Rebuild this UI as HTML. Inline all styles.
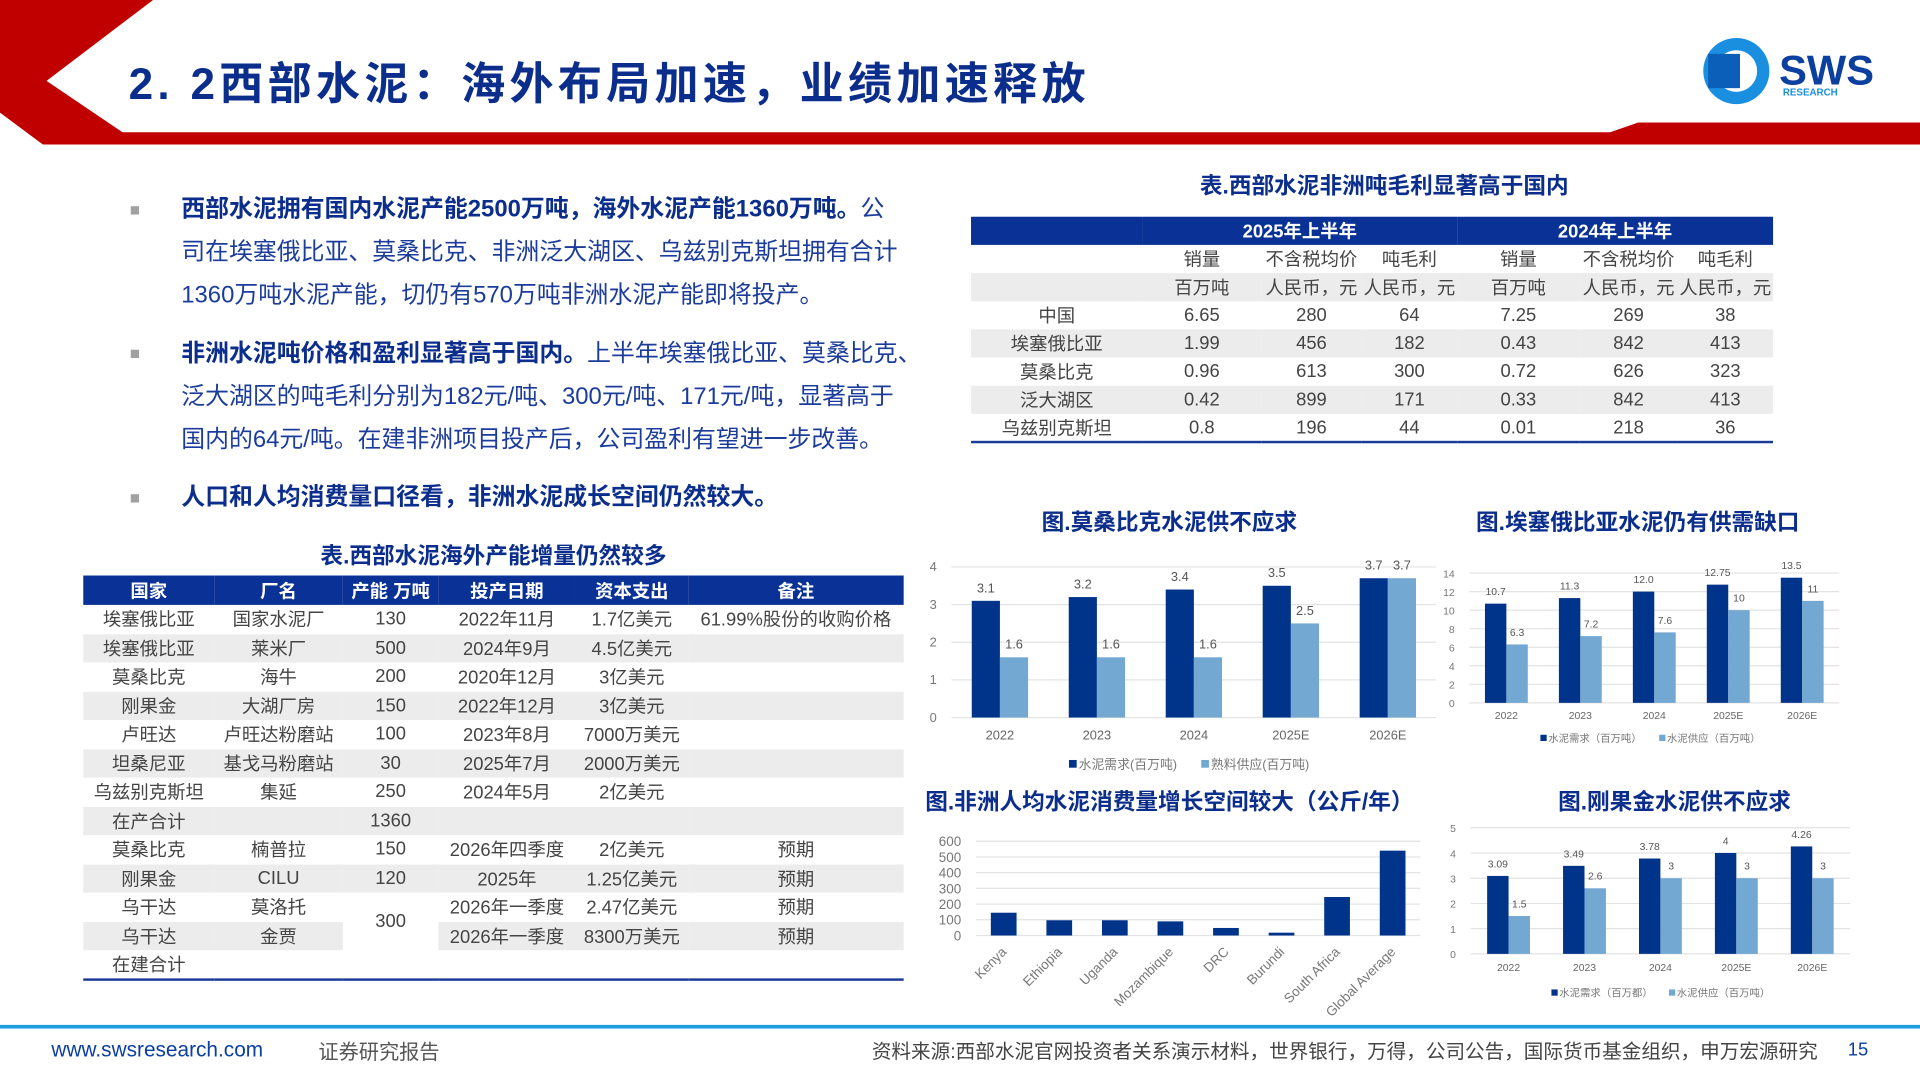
<!DOCTYPE html>
<html><head><meta charset="utf-8">
<style>
html,body{margin:0;padding:0;background:#fff;overflow:hidden;}
body{width:1920px;height:1080px;}
#wrap{position:absolute;left:0;top:0;width:1568px;height:882px;transform:scale(1.22449);transform-origin:0 0;font-family:"Liberation Sans","Noto Sans CJK SC",sans-serif;}
.abs{position:absolute;}
.title{left:105px;top:40px;font-size:36px;font-weight:bold;color:#0b2d8c;font-family:"Liberation Sans","Noto Sans CJK SC",sans-serif;letter-spacing:3.5px;}
.bul{left:106px;font-size:14px;color:#a0a0a0;}
.para{left:148px;font-size:19.5px;line-height:35px;color:#1c3c9c;white-space:nowrap;}
.para b{color:#0b2d8c;}
.ttl{font-size:18.5px;font-weight:bold;color:#0b2d8c;text-align:center;}
table{border-collapse:collapse;position:absolute;font-size:15px;color:#444;}
td{text-align:center;padding:0;white-space:nowrap;}
tr.g td{background:#ececec;}
th{background:#0a3296;color:#fff;font-weight:bold;font-size:15px;}
svg text{font-family:"Liberation Sans","Noto Sans CJK SC",sans-serif;}
</style></head><body>
<div id="wrap">
<svg class="abs" style="left:0;top:0" width="1568" height="130">
<polygon points="0,0 125,0 38,66 100,108 1315,108 1338,100 1568,100 1568,118 35,118 0,92" fill="#c00000"/>
<circle cx="1418" cy="58" r="27" fill="#1a8fe0"/>
<circle cx="1418" cy="58" r="17" fill="#fff"/>
<rect x="1395" y="44" width="26" height="28" fill="#0b5fb8"/>
<text x="1453" y="69" font-size="34" font-weight="bold" fill="#0b3fa0">SWS</text>
<text x="1456" y="78" font-size="8" font-weight="bold" fill="#1a8fe0">RESEARCH</text>
</svg>
<div class="abs title">2. 2西部水泥：海外布局加速，业绩加速释放</div>

<div class="abs bul" style="top:163px">■</div>
<div class="abs para" style="top:154px"><b>西部水泥拥有国内水泥产能2500万吨，海外水泥产能1360万吨。</b>公<br>司在埃塞俄比亚、莫桑比克、非洲泛大湖区、乌兹别克斯坦拥有合计<br>1360万吨水泥产能，切仍有570万吨非洲水泥产能即将投产。</div>
<div class="abs bul" style="top:280px">■</div>
<div class="abs para" style="top:272px"><b>非洲水泥吨价格和盈利显著高于国内。</b>上半年埃塞俄比亚、莫桑比克、<br>泛大湖区的吨毛利分别为182元/吨、300元/吨、171元/吨，显著高于<br>国内的64元/吨。在建非洲项目投产后，公司盈利有望进一步改善。</div>
<div class="abs bul" style="top:398px">■</div>
<div class="abs para" style="top:389px"><b>人口和人均消费量口径看，非洲水泥成长空间仍然较大。</b></div>

<div class="abs ttl" style="left:68px;width:670px;top:440px">表.西部水泥海外产能增量仍然较多</div>
<table style="left:68px;top:470px;width:670px;border-bottom:2px solid #1a3a9a">
<colgroup><col style="width:107px"><col style="width:105px"><col style="width:78px"><col style="width:112px"><col style="width:92px"><col style="width:176px"></colgroup>
<tr style="height:24px"><th>国家</th><th>厂名</th><th>产能 万吨</th><th>投产日期</th><th>资本支出</th><th>备注</th></tr>
<tr style="height:23.5px"><td>埃塞俄比亚</td><td>国家水泥厂</td><td>130</td><td>2022年11月</td><td>1.7亿美元</td><td>61.99%股份的收购价格</td></tr>
<tr class="g" style="height:23.5px"><td>埃塞俄比亚</td><td>莱米厂</td><td>500</td><td>2024年9月</td><td>4.5亿美元</td><td></td></tr>
<tr style="height:23.5px"><td>莫桑比克</td><td>海牛</td><td>200</td><td>2020年12月</td><td>3亿美元</td><td></td></tr>
<tr class="g" style="height:23.5px"><td>刚果金</td><td>大湖厂房</td><td>150</td><td>2022年12月</td><td>3亿美元</td><td></td></tr>
<tr style="height:23.5px"><td>卢旺达</td><td>卢旺达粉磨站</td><td>100</td><td>2023年8月</td><td>7000万美元</td><td></td></tr>
<tr class="g" style="height:23.5px"><td>坦桑尼亚</td><td>基戈马粉磨站</td><td>30</td><td>2025年7月</td><td>2000万美元</td><td></td></tr>
<tr style="height:23.5px"><td>乌兹别克斯坦</td><td>集延</td><td>250</td><td>2024年5月</td><td>2亿美元</td><td></td></tr>
<tr class="g" style="height:23.5px"><td>在产合计</td><td></td><td>1360</td><td></td><td></td><td></td></tr>
<tr style="height:23.5px"><td>莫桑比克</td><td>楠普拉</td><td>150</td><td>2026年四季度</td><td>2亿美元</td><td>预期</td></tr>
<tr class="g" style="height:23.5px"><td>刚果金</td><td>CILU</td><td>120</td><td>2025年</td><td>1.25亿美元</td><td>预期</td></tr>
<tr style="height:23.5px"><td>乌干达</td><td>莫洛托</td><td rowspan="2" style="background:#fff">300</td><td>2026年一季度</td><td>2.47亿美元</td><td>预期</td></tr>
<tr class="g" style="height:23.5px"><td>乌干达</td><td>金贾</td><td>2026年一季度</td><td>8300万美元</td><td>预期</td></tr>
<tr style="height:23.5px"><td>在建合计</td><td></td><td></td><td></td><td></td><td></td></tr>
</table>

<div class="abs ttl" style="left:793px;width:675px;top:138px">表.西部水泥非洲吨毛利显著高于国内</div>
<table style="left:793px;top:177px;width:655px;border-bottom:2px solid #1a3a9a">
<colgroup><col style="width:140px"><col style="width:97px"><col style="width:82px"><col style="width:78px"><col style="width:100px"><col style="width:80px"><col style="width:78px"></colgroup>
<tr style="height:23px"><th></th><th colspan="3">2025年上半年</th><th colspan="3">2024年上半年</th></tr>
<tr style="height:23px"><td></td><td>销量</td><td>不含税均价</td><td>吨毛利</td><td>销量</td><td>不含税均价</td><td>吨毛利</td></tr>
<tr class="g" style="height:23px"><td></td><td>百万吨</td><td>人民币，元</td><td>人民币，元</td><td>百万吨</td><td>人民币，元</td><td>人民币，元</td></tr>
<tr style="height:23px"><td>中国</td><td>6.65</td><td>280</td><td>64</td><td>7.25</td><td>269</td><td>38</td></tr>
<tr class="g" style="height:23px"><td>埃塞俄比亚</td><td>1.99</td><td>456</td><td>182</td><td>0.43</td><td>842</td><td>413</td></tr>
<tr style="height:23px"><td>莫桑比克</td><td>0.96</td><td>613</td><td>300</td><td>0.72</td><td>626</td><td>323</td></tr>
<tr class="g" style="height:23px"><td>泛大湖区</td><td>0.42</td><td>899</td><td>171</td><td>0.33</td><td>842</td><td>413</td></tr>
<tr style="height:23px"><td>乌兹别克斯坦</td><td>0.8</td><td>196</td><td>44</td><td>0.01</td><td>218</td><td>36</td></tr>
</table>

<div class="abs ttl" style="left:800px;width:310px;top:413px">图.莫桑比克水泥供不应求</div>
<div class="abs ttl" style="left:1180px;width:315px;top:413px">图.埃塞俄比亚水泥仍有供需缺口</div>
<div class="abs ttl" style="left:740px;width:430px;top:641px">图.非洲人均水泥消费量增长空间较大（公斤/年）</div>
<div class="abs ttl" style="left:1230px;width:275px;top:641px">图.刚果金水泥供不应求</div>

<svg id="charts" class="abs" style="left:0;top:0" width="1568" height="882"></svg>

<div class="abs" style="left:0;top:837px;width:1568px;height:3px;background:#1a9ee0"></div>
<div class="abs" style="left:42px;top:848px;font-size:17px;color:#0b3fa0">www.swsresearch.com</div>
<div class="abs" style="left:260px;top:846px;font-size:16.5px;color:#555">证券研究报告</div>
<div class="abs" style="left:712px;top:845px;font-size:16px;color:#444;white-space:nowrap">资料来源:西部水泥官网投资者关系演示材料，世界银行，万得，公司公告，国际货币基金组织，申万宏源研究</div>
<div class="abs" style="left:1509px;top:849px;font-size:15px;color:#0b3fa0">15</div>
</div>

<script>
// Mozambique
const mozCats = ["2022","2023","2024","2025E","2026E"];
const mozDemand = [3.1,3.2,3.4,3.5,3.7];
const mozSupply = [1.6,1.6,1.6,2.5,3.7];
const mozTicks = [0,1,2,3,4];
const mozLegend = ["水泥需求(百万吨)","熟料供应(百万吨)"];
// Ethiopia
const ethCats = ["2022","2023","2024","2025E","2026E"];
const ethDemand = [10.7,11.3,12.0,12.75,13.5];
const ethSupply = [6.3,7.2,7.6,10,11];
const ethDemandLbl = ["10.7","11.3","12.0","12.75","13.5"];
const ethTicks = [0,2,4,6,8,10,12,14];
const ethLegend = ["水泥需求（百万吨）","水泥供应（百万吨）"];
// Per capita
const capCats = ["Kenya","Ethiopia","Uganda","Mozambique","DRC","Burundi","South Africa","Global Average"];
const capVals = [145,97,97,90,48,18,245,540];
const capTicks = [0,100,200,300,400,500,600];
// Congo
const drcCats = ["2022","2023","2024","2025E","2026E"];
const drcDemand = [3.09,3.49,3.78,4,4.26];
const drcSupply = [1.5,2.6,3,3,3];
const drcTicks = [0,1,2,3,4,5];
const drcLegend = ["水泥需求（百万都）","水泥供应（百万吨）"];

const NS="http://www.w3.org/2000/svg";
const svg=document.getElementById('charts');
function mk(tag,attrs,parent){const e=document.createElementNS(NS,tag);for(const k in attrs)e.setAttribute(k,attrs[k]);(parent||svg).appendChild(e);return e;}
function txt(x,y,s,size,fill,anchor,parent){const t=mk('text',{x:x,y:y,'font-size':size,fill:fill,'text-anchor':anchor||'middle'},parent);t.textContent=s;return t;}

function groupChart(o){
  const g=mk('g',{});
  
  
  const maxT=o.ticks[o.ticks.length-1];
  const yS=v=>o.y0-(v/maxT)*(o.y0-o.yTop);
  const step=(o.x1-o.x0)/o.cats.length;
  const xC=i=>o.x0+step*(i+0.5);
  o.ticks.forEach(t=>{
    const l=mk('line',{x1:o.x0,x2:o.x1,y1:yS(t),y2:yS(t),stroke:'#e3e3e3','stroke-width':1},g);
    
    
    const tl=txt(o.x0-12,yS(t)+3.5,String(t),o.fs,'#777','end',g);
    
    
  });
  o.cats.forEach((c,i)=>{
    const cx=xC(i);
    [[o.s1,'#00338a',-1,o.l1],[o.s2,'#72a8d2',0,o.l2]].forEach(([arr,col,off,lbls])=>{
      const v=arr[i];const x=cx+off*o.bw;
      const r=mk('rect',{x:x,y:yS(v),width:o.bw,height:o.y0-yS(v),fill:col},g);
      
      
      const vl=txt(x+o.bw/2,yS(v)-7,lbls?lbls[i]:String(v),o.fs,'#555','middle',g);
      
      
    });
    const xl=txt(cx,o.y0+o.xlOff,c,o.fs,'#666','middle',g);
    
    
  });
  o.legend.forEach((s,i)=>{
    const lx=o.legX[i];
    mk('rect',{x:lx,y:o.legY-o.fs*0.7,width:o.fs*0.6,height:o.fs*0.6,fill:i?'#72a8d2':'#00338a'},g);
    const lt=txt(lx+o.fs*0.75,o.legY,s,o.fs,'#777','start',g);
    
    
  });
}
groupChart({name:'mozambique-chart',cats:mozCats,s1:mozDemand,s2:mozSupply,ticks:mozTicks,x0:777,x1:1173,y0:586,yTop:463,bw:23,fs:10.5,xlOff:18,legend:mozLegend,legX:[873,981],legY:628});
groupChart({name:'ethiopia-chart',cats:ethCats,s1:ethDemand,s2:ethSupply,l1:ethDemandLbl,ticks:ethTicks,x0:1200,x1:1502,y0:574,yTop:468,bw:17.5,fs:8.5,xlOff:13,legend:ethLegend,legX:[1258,1355],legY:606});
groupChart({name:'congo-chart',cats:drcCats,s1:drcDemand,s2:drcSupply,ticks:drcTicks,x0:1201,x1:1511,y0:779,yTop:676,bw:17.5,fs:8.5,xlOff:14,legend:drcLegend,legX:[1267,1363],legY:814});

(function(){
  const g=mk('g',{});
  
  
  const x0=797,x1=1160,y0=764,yTop=687,maxT=capTicks[capTicks.length-1];
  const yS=v=>y0-(v/maxT)*(y0-yTop);
  const step=(x1-x0)/capCats.length;
  capTicks.forEach(t=>{
    const l=mk('line',{x1:x0,x2:x1,y1:yS(t),y2:yS(t),stroke:'#e3e3e3','stroke-width':1},g);
    
    
    const tl=txt(x0-12,yS(t)+4,String(t),11,'#777','end',g);
    
    
  });
  capCats.forEach((c,i)=>{
    const cx=x0+step*(i+0.5);
    const r=mk('rect',{x:cx-10.5,y:yS(capVals[i]),width:21,height:y0-yS(capVals[i]),fill:'#00338a'},g);
    
    
    const t=txt(cx+3,y0+14,c,11,'#777','end',g);
    t.setAttribute('transform','rotate(-45 '+(cx+3)+' '+(y0+14)+')');
    
    
  });
})();
</script>
</body></html>
